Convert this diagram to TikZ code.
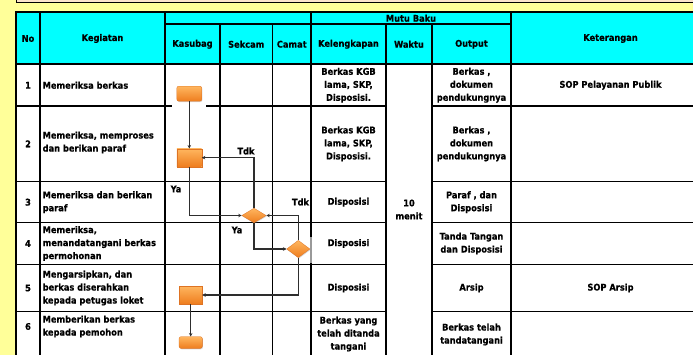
\documentclass[tikz,border=0pt]{standalone}
\usepackage{fontspec}
\setmainfont{DejaVu Sans Condensed}[BoldFeatures={FakeBold=0.5}]
\usepackage{tikz}
\usetikzlibrary{positioning,shapes.geometric,arrows.meta,shadows}
\definecolor{latar}{HTML}{FFFF99}
\definecolor{atas}{HTML}{FCE4CC}
\definecolor{kopf}{HTML}{00FFFF}
\definecolor{garis}{HTML}{2E2E2E}
\definecolor{oranye1}{RGB}{255,182,95}
\definecolor{oranye2}{RGB}{238,125,30}
\definecolor{oranye3}{RGB}{222,115,35}

\begin{document}
\begin{tikzpicture}[x=1pt,y=-1pt,
  txt/.style={font=\bfseries\fontsize{9.2}{13}\selectfont, align=center, inner sep=0pt},
  ltxt/.style={txt, align=left, anchor=west},
  tipis/.style={black, line width=1.2pt},
  tebal/.style={black, line width=2pt},
  kotak/.style={rectangle, inner sep=0pt, top color=oranye1, bottom color=oranye2,
    draw=oranye3, line width=0.3pt,
    drop shadow={shadow xshift=0.6pt, shadow yshift=-0.9pt, opacity=0.3}},
  belah/.style={kotak, diamond},
  alur/.style={draw=garis, line width=1.1pt, -{Stealth[length=3.5pt,width=3.5pt]}}]
  \useasboundingbox (0,0) rectangle (693,355);

  % Hintergrund
  \fill[latar] (0,0) rectangle (693,355);
  \filldraw[fill=atas, draw=black, line width=0.8pt] (16,-5) rectangle (720,2.5);

  % Tabelle: Kopf und Rumpf
  \fill[kopf] (16,12.5) rectangle (720,64.5);
  \fill[white] (16,64.5) rectangle (720,360);

  % Zeilenlinien (Spalte Waktu ist verbunden)
  \foreach \y in {106,181.7,222.7,264.3,311.7}{
    \draw[tipis] (16,\y) -- (386,\y);
    \draw[tipis] (432,\y) -- (720,\y);
  }
  % Spaltenlinien
  \foreach \x/\ya in {40/12.5, 165/12.5, 220/24, 272.5/24, 311/12.5,
                      386/24, 432/24, 511/12.5}{
    \draw[tipis] (\x,\ya) -- (\x,360);
  }
  \draw[tipis] (165,24) -- (511,24);

  % Rahmen
  \draw[tebal] (16,360) -- (16,12.5) -- (720,12.5);
  \draw[tebal] (16,64.5) -- (720,64.5);

  % Kopfzeile
  \node[txt] (hNo) at (28,38.5) {No};
  \node[txt] (hKeg) at (102.5,38.5) {Kegiatan};
  \node[txt] (hMutu) at (411,18.25) {Mutu Baku};
  \node[txt] (hKet) at (610.5,38.5) {Keterangan};
  \foreach \x/\t/\nm in {192.5/Kasubag/kas, 246.25/Sekcam/sek, 291.75/Camat/cam,
                         348.5/Kelengkapan/kel, 409/Waktu/wak, 471.5/Output/out}{
    \node[txt] (h\nm) at (\x,44.25) {\t};
  }

  % Nummern und Kegiatan
  \foreach \n/\y in {1/85.25, 2/143.85, 3/202.2, 4/243.5, 5/288, 6/326.5}{
    \node[txt] (no\n) at (28,\y) {\n};
  }
  \foreach \n/\y/\t in {1/85.25/{Memeriksa berkas},
                        2/142.5/{Memeriksa, memproses\\dan berikan paraf},
                        3/202.2/{Memeriksa dan berikan\\paraf},
                        4/243.5/{Memeriksa,\\menandatangani berkas\\permohonan},
                        5/288/{Mengarsipkan, dan\\berkas diserahkan\\kepada petugas loket},
                        6/326.5/{Memberikan berkas\\kepada pemohon}}{
    \node[ltxt] (keg\n) at (42.5,\y) {\t};
  }

  % Kelengkapan
  \foreach \n/\y/\t in {1/85.25/{Berkas KGB\\lama, SKP,\\Disposisi.},
                        2/143.85/{Berkas KGB\\lama, SKP,\\Disposisi.},
                        3/202.2/{Disposisi}, 4/243.5/{Disposisi}, 5/288/{Disposisi},
                        6/334/{Berkas yang\\telah ditanda\\tangani}}{
    \node[txt] (kel\n) at (348.5,\y) {\t};
  }

  % Waktu
  \node[txt] (waktu) at (409,209.5) {10\\menit};

  % Output
  \foreach \n/\y/\t in {1/85.25/{Berkas ,\\dokumen\\pendukungnya},
                        2/143.85/{Berkas ,\\dokumen\\pendukungnya},
                        3/202.2/{Paraf , dan\\Disposisi},
                        4/243.5/{Tanda Tangan\\dan Disposisi},
                        5/288/{Arsip},
                        6/334.5/{Berkas telah\\tandatangani}}{
    \node[txt] (out\n) at (471.5,\y) {\t};
  }

  % Keterangan
  \node[txt] (ket1) at (610.5,85.25) {SOP Pelayanan Publik};
  \node[txt] (ket5) at (610.5,288) {SOP Arsip};

  % Luecken um die Symbole
  \fill[white] (172,103) rectangle (206,109);
  \fill[white, opacity=0.6] (309.5,236.7) rectangle (313,263);

  % Ablauf
  \node[kotak, rounded corners=2pt, minimum width=25pt, minimum height=15pt] (k1) at (189.3,93.7) {};
  \node[kotak, minimum width=24.7pt, minimum height=18pt] (k2) at (189.3,157.7) {};
  \node[belah, minimum width=24.3pt, minimum height=14.7pt] (b1) at (254,215.5) {};
  \node[belah, minimum width=23.3pt, minimum height=17.3pt] (b2) at (298.3,249) {};
  \node[kotak, minimum width=22.7pt, minimum height=18pt] (k3) at (190.7,295) {};
  \node[kotak, rounded corners=2pt, minimum width=23.3pt, minimum height=11.7pt] (k4) at (190.7,342.5) {};

  \draw[alur] (k1) -- (k2);
  \draw[alur] (k2) |- (b1);
  \draw[alur] (b1) |- (k2);
  \draw[alur] (b1) |- (b2);
  \draw[alur] (b2) |- (b1);
  \draw[alur] (b2) |- (k3);
  \draw[alur] (k3) -- (k4);

  % Beschriftung der Pfeile
  \node[txt] (ya1) at (176,189) {Ya};
  \node[txt] (tdk1) at (246,151) {Tdk};
  \node[txt] (ya2) at (237,230) {Ya};
  \node[txt] (tdk2) at (300.5,202) {Tdk};

\end{tikzpicture}
\end{document}
